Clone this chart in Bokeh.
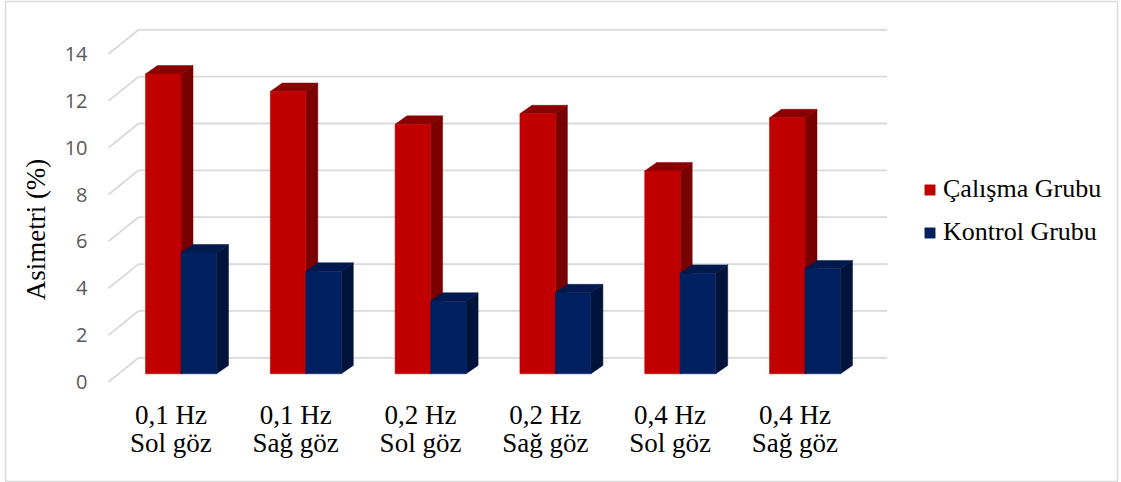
import numpy as np
from bokeh.plotting import figure
from bokeh.models import Range1d, Legend, LegendItem
from bokeh.core.properties import value
from bokeh.embed import file_html
from bokeh.resources import INLINE

# ---------------- data ----------------
freq_labels = ["0,1 Hz", "0,1 Hz", "0,2 Hz", "0,2 Hz", "0,4 Hz", "0,4 Hz"]
eye_labels = ["Sol göz", "Sağ göz", "Sol göz", "Sağ göz", "Sol göz", "Sağ göz"]
calisma = [12.80, 12.05, 10.65, 11.10, 8.66, 10.93]
kontrol = [5.16, 4.38, 3.10, 3.46, 4.29, 4.48]
y_ticks = [0, 2, 4, 6, 8, 10, 12, 14]
series_names = ["Çalışma Grubu", "Kontrol Grubu"]
y_title = "Asimetri (%)"

# ---------------- layout / style ----------------
W, H = 1121, 482
FRAME_L, FRAME_R, FRAME_T, FRAME_B = 5, 1117, 1, 481
X0_PX, X_UNIT = 108.0, 124.8     # front plane left edge, px per category
Y0_PX, Y_UNIT = 381.5, 23.43     # front plane zero, px per unit


def px_x(d):
    return d / X_UNIT


def px_y(d):
    return d / Y_UNIT


WALL_DX, WALL_DY = px_x(30), px_y(24.2)
BAR_FX, BAR_FY = px_x(10.1), px_y(8.2)
BAR_DX, BAR_DY = px_x(12), px_y(8.4)
BAR_W = px_x(35.5)

RED = ("#C00000", "#7A0000", "#8A0000")     # front, side, top
BLUE = ("#002060", "#00133B", "#001A4E")
GRID = "#D9D9D9"
SERIF = "Liberation Serif"

p = figure(width=W, height=H, output_backend="svg", toolbar_location=None,
           x_axis_location=None, y_axis_location=None, title=None,
           x_range=Range1d((FRAME_L - X0_PX) / X_UNIT, (FRAME_R - X0_PX) / X_UNIT),
           y_range=Range1d((Y0_PX - FRAME_B) / Y_UNIT, (Y0_PX - FRAME_T) / Y_UNIT),
           min_border=0)
p.min_border_left = FRAME_L
p.min_border_right = W - FRAME_R
p.min_border_top = FRAME_T
p.min_border_bottom = H - FRAME_B
p.grid.visible = False
p.outline_line_color = GRID
p.outline_line_width = 1.5
p.background_fill_color = "white"
p.border_fill_color = "white"

n = len(calisma)

# back wall gridlines + left diagonal
back_xs = [[WALL_DX, n + WALL_DX] for t in y_ticks]
back_ys = [[t + WALL_DY, t + WALL_DY] for t in y_ticks]
diag_xs = [[0, WALL_DX] for t in y_ticks]
diag_ys = [[t, t + WALL_DY] for t in y_ticks]
p.multi_line(back_xs + diag_xs, back_ys + diag_ys, line_color=GRID, line_width=1.8)

centers = np.arange(n) + 0.5


def draw_bars(vals, left, right, colors):
    vals = np.asarray(vals, dtype=float)
    b = BAR_FY
    t = vals + BAR_FY
    side_xs = [[r, r + BAR_DX, r + BAR_DX, r] for r in right]
    side_ys = [[b, b + BAR_DY, tt + BAR_DY, tt] for tt in t]
    top_xs = [[l, l + BAR_DX, r + BAR_DX, r] for l, r in zip(left, right)]
    top_ys = [[tt, tt + BAR_DY, tt + BAR_DY, tt] for tt in t]
    p.patches(side_xs, side_ys, fill_color=colors[1], line_color=colors[1], line_width=0.5)
    p.patches(top_xs, top_ys, fill_color=colors[2], line_color=colors[2], line_width=0.5)
    return p.quad(left=left, right=right, bottom=[b] * len(vals), top=t,
                  fill_color=colors[0], line_color=colors[0], line_width=0.5)


red_r = draw_bars(calisma, centers - BAR_W + BAR_FX, centers + BAR_FX, RED)
blue_r = draw_bars(kontrol, centers + BAR_FX, centers + BAR_W + BAR_FX, BLUE)

# y tick labels
p.text(x=[px_x(87 - X0_PX)] * len(y_ticks), y=y_ticks, text=[str(t) for t in y_ticks],
       text_align="right", text_baseline="middle", text_font=value("Open Sans"),
       text_font_size="20px", text_color="#595959")

# category labels (two lines)
p.text(x=centers, y=[(Y0_PX - 414.5) / Y_UNIT] * n, text=freq_labels,
       text_align="center", text_baseline="alphabetic", text_font=value(SERIF),
       text_font_size="27px", text_color="black")
p.text(x=centers, y=[(Y0_PX - 442.0) / Y_UNIT] * n, text=eye_labels,
       text_align="center", text_baseline="alphabetic", text_font=value(SERIF),
       text_font_size="27px", text_color="black")

# axis title
p.text(x=[px_x(35 - X0_PX)], y=[(Y0_PX - 229) / Y_UNIT], text=[y_title], angle=np.pi / 2,
       text_align="center", text_baseline="middle", text_font=value(SERIF),
       text_font_size="27px", text_color="black")

legend = Legend(items=[LegendItem(label=series_names[0], renderers=[red_r]),
                       LegendItem(label=series_names[1], renderers=[blue_r])],
                location=(918, 234), padding=0, margin=0, spacing=13,
                border_line_color=None, background_fill_alpha=0,
                label_text_font=SERIF, label_text_font_size="26px",
                label_text_color="black", label_standoff=7,
                glyph_width=13, glyph_height=13, label_height=30)
p.add_layout(legend)

open("out.html", "w").write(file_html(p, INLINE))
